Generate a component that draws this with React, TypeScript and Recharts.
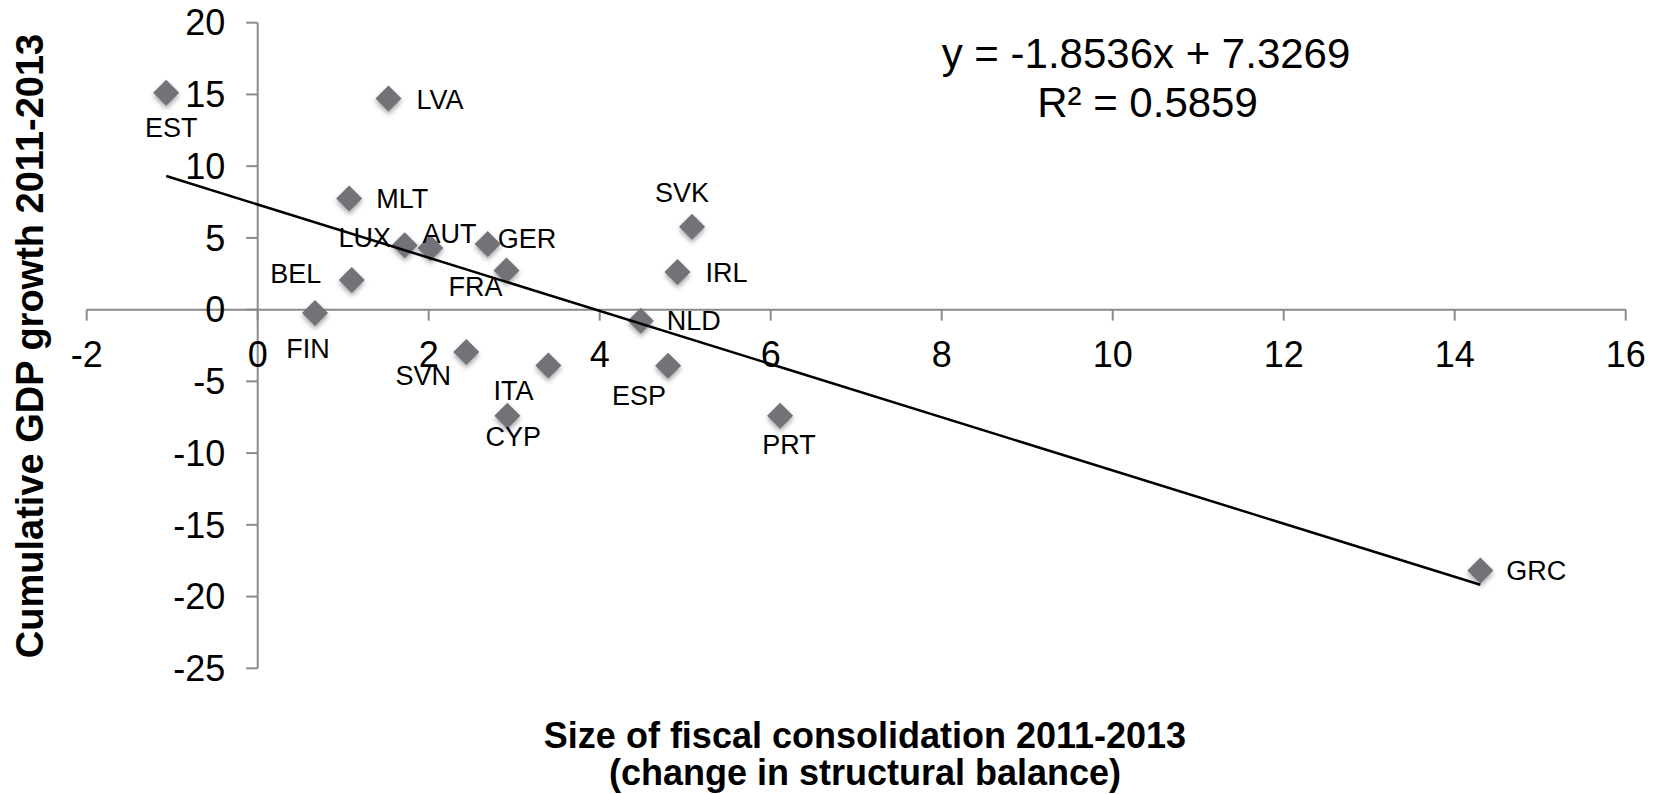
import React from 'react';
import { ScatterChart, Scatter, XAxis, YAxis } from 'recharts';

// Euro-area countries: fiscal consolidation vs cumulative GDP growth, 2011-2013
const countries = ['EST', 'LVA', 'MLT', 'LUX', 'AUT', 'GER', 'FRA', 'BEL', 'FIN', 'SVN', 'ITA', 'CYP', 'SVK', 'IRL', 'NLD', 'ESP', 'PRT', 'GRC'];
const consolidation = [-1.07, 1.53, 1.07, 1.72, 2.02, 2.69, 2.91, 1.1, 0.67, 2.44, 3.4, 2.92, 5.08, 4.91, 4.48, 4.8, 6.11, 14.3];
const gdpGrowth = [15.12, 14.72, 7.74, 4.49, 4.3, 4.58, 2.72, 2.07, -0.23, -2.95, -3.9, -7.39, 5.78, 2.63, -0.77, -3.92, -7.39, -18.19];

const xTicks = [-2, 0, 2, 4, 6, 8, 10, 12, 14, 16];
const yTicks = [20, 15, 10, 5, 0, -5, -10, -15, -20, -25];

// Linear trend line as reported by the regression
const trendSlope = -1.8536;
const trendIntercept = 7.3269;
const trendR2 = 0.5859;

const xTitle = ['Size of fiscal consolidation 2011-2013', '(change in structural balance)'];
const yTitle = 'Cumulative GDP growth 2011-2013';

// ---- presentation ----
const W = 1657;
const H = 794;
const FONT = "'Liberation Sans', Arial, Helvetica, sans-serif";
const AXIS_COLOR = '#8a8a8a';
const MARKER_COLOR = '#727279';

type Anchor = 'start' | 'middle' | 'end';
// Where each country label sits relative to its marker (pixels)
const LABEL_PLACEMENT: Record<string, { dx: number; dy: number; anchor: Anchor }> = {
  EST: { dx: 5, dy: 35, anchor: 'middle' },
  LVA: { dx: 28, dy: 1, anchor: 'start' },
  MLT: { dx: 27, dy: 0, anchor: 'start' },
  LUX: { dx: -40, dy: -8, anchor: 'middle' },
  AUT: { dx: 19, dy: -14, anchor: 'middle' },
  GER: { dx: 10, dy: -5, anchor: 'start' },
  FRA: { dx: -31, dy: 16, anchor: 'middle' },
  BEL: { dx: -56, dy: -6, anchor: 'middle' },
  FIN: { dx: -7, dy: 36, anchor: 'middle' },
  SVN: { dx: -43, dy: 24, anchor: 'middle' },
  ITA: { dx: -35, dy: 25, anchor: 'middle' },
  CYP: { dx: 6, dy: 21, anchor: 'middle' },
  SVK: { dx: -10, dy: -34, anchor: 'middle' },
  IRL: { dx: 28, dy: 1, anchor: 'start' },
  NLD: { dx: 26, dy: 0, anchor: 'start' },
  ESP: { dx: -29, dy: 30, anchor: 'middle' },
  PRT: { dx: 9, dy: 29, anchor: 'middle' },
  GRC: { dx: 26, dy: 0, anchor: 'start' },
};

const points = countries.map((name, i) => ({ name, x: consolidation[i], y: gdpGrowth[i] }));

const minX = Math.min(...consolidation);
const maxX = Math.max(...consolidation);
const trendPoints = [
  { x: minX, y: trendSlope * minX + trendIntercept },
  { x: maxX, y: trendSlope * maxX + trendIntercept },
];

const xAxisLine = [
  { x: xTicks[0], y: 0 },
  { x: xTicks[xTicks.length - 1], y: 0 },
];
const yAxisLine = [
  { x: 0, y: yTicks[yTicks.length - 1] },
  { x: 0, y: yTicks[0] },
];
const xTickPoints = xTicks.map((t) => ({ x: t, y: 0 }));
const yTickPoints = yTicks.map((t) => ({ x: 0, y: t }));

const renderNothing = () => <g />;

const renderXTick = (p: any) => (
  <g>
    <line x1={p.cx} y1={p.cy} x2={p.cx} y2={p.cy + 11} stroke={AXIS_COLOR} strokeWidth={2} />
    <text x={p.cx} y={p.cy + 57.5} textAnchor="middle" fontFamily={FONT} fontSize={36} fill="#000">
      {p.payload.x}
    </text>
  </g>
);

const renderYTick = (p: any) => (
  <g>
    <line x1={p.cx - 11.5} y1={p.cy} x2={p.cx} y2={p.cy} stroke={AXIS_COLOR} strokeWidth={2} />
    <text x={p.cx - 32.5} y={p.cy} dy="0.355em" textAnchor="end" fontFamily={FONT} fontSize={36} fill="#000">
      {p.payload.y}
    </text>
  </g>
);

const renderDiamond = (p: any) => {
  const r = 13;
  const { cx, cy } = p;
  return (
    <polygon
      points={`${cx},${cy - r} ${cx + r},${cy} ${cx},${cy + r} ${cx - r},${cy}`}
      fill={MARKER_COLOR}
      style={{ filter: 'drop-shadow(0px 3px 2.5px rgba(0,0,0,0.35))' }}
    />
  );
};

const renderCountryLabel = (p: any) => {
  const name: string = p.payload.name;
  const place = LABEL_PLACEMENT[name] ?? { dx: 28, dy: 0, anchor: 'start' as Anchor };
  return (
    <text
      x={p.cx + place.dx}
      y={p.cy + place.dy}
      dy="0.35em"
      textAnchor={place.anchor}
      fontFamily={FONT}
      fontSize={27}
      fill="#000"
    >
      {name}
    </text>
  );
};

export default function App() {
  return (
    <div style={{ position: 'absolute', left: 0, top: 0, width: W, height: H, background: '#fff' }}>
      <ScatterChart width={W} height={H} margin={{ top: 22.7, right: 31.3, bottom: 125.7, left: 86.7 }}>
        <XAxis type="number" dataKey="x" domain={[-2, 16]} ticks={xTicks} hide />
        <YAxis type="number" dataKey="y" domain={[-25, 20]} ticks={yTicks} hide />

        <Scatter data={xAxisLine} fill={AXIS_COLOR} line={{ stroke: AXIS_COLOR, strokeWidth: 2 }} shape={renderNothing} isAnimationActive={false} />
        <Scatter data={yAxisLine} fill={AXIS_COLOR} line={{ stroke: AXIS_COLOR, strokeWidth: 2 }} shape={renderNothing} isAnimationActive={false} />
        <Scatter data={xTickPoints} fill={AXIS_COLOR} shape={renderXTick} isAnimationActive={false} />
        <Scatter data={yTickPoints} fill={AXIS_COLOR} shape={renderYTick} isAnimationActive={false} />

        <Scatter data={points} fill={MARKER_COLOR} shape={renderDiamond} isAnimationActive={false} />
        <Scatter data={trendPoints} fill="#000" line={{ stroke: '#000', strokeWidth: 2.5 }} shape={renderNothing} isAnimationActive={false} />
        <Scatter data={points} fill="#000" shape={renderCountryLabel} isAnimationActive={false} />
      </ScatterChart>

      <svg width={W} height={H} style={{ position: 'absolute', left: 0, top: 0, pointerEvents: 'none' }}>
        <g fontFamily={FONT} fill="#000">
          <text x={1146} y={68.3} textAnchor="middle" fontSize={42}>
            {`y = ${trendSlope}x + ${trendIntercept}`}
          </text>
          <text x={1147.5} y={116.7} textAnchor="middle" fontSize={42}>
            {`R² = ${trendR2}`}
          </text>

          <text x={865} y={748} textAnchor="middle" fontSize={36} fontWeight="bold">
            {xTitle[0]}
          </text>
          <text x={865} y={785} textAnchor="middle" fontSize={36} fontWeight="bold">
            {xTitle[1]}
          </text>

          <text
            transform="translate(43, 346) rotate(-90)"
            x={0}
            y={0}
            textAnchor="middle"
            fontSize={38}
            fontWeight="bold"
          >
            {yTitle}
          </text>
        </g>
      </svg>
    </div>
  );
}
